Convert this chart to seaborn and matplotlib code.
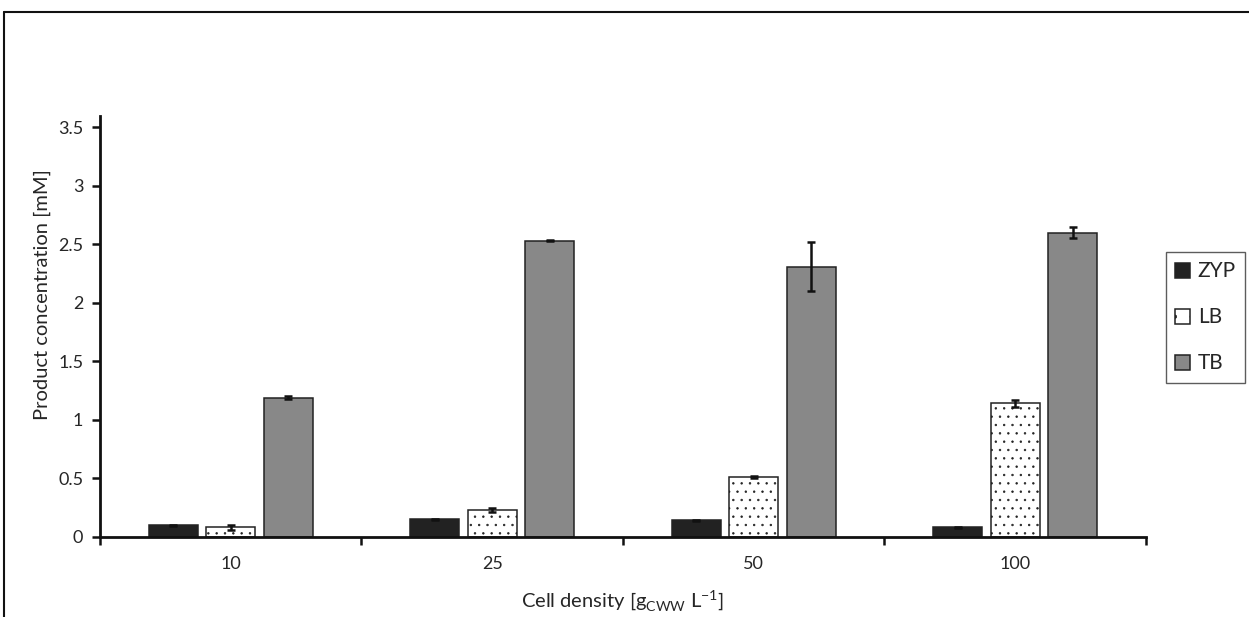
import matplotlib
matplotlib.use("Agg")
import matplotlib.pyplot as plt
from matplotlib.patches import Patch
from matplotlib.lines import Line2D
import numpy as np
import pandas as pd
import seaborn as sns

# Product concentration per medium at each cell density
densities = ["10", "25", "50", "100"]
media = ["ZYP", "LB", "TB"]
zyp_mean = [0.10, 0.15, 0.14, 0.08]
zyp_err = [0.005, 0.005, 0.005, 0.005]
lb_mean = [0.08, 0.23, 0.51, 1.14]
lb_err = [0.02, 0.015, 0.01, 0.03]
tb_mean = [1.19, 2.53, 2.31, 2.60]
tb_err = [0.012, 0.004, 0.21, 0.045]

means = {"ZYP": zyp_mean, "LB": lb_mean, "TB": tb_mean}
errs = {"ZYP": zyp_err, "LB": lb_err, "TB": tb_err}
fills = {"ZYP": "#222222", "LB": "#ffffff", "TB": "#888888"}
hatches = {"ZYP": "", "LB": "..", "TB": ""}

rows = []
for m in media:
    for d, v, e in zip(densities, means[m], errs[m]):
        rows.append({"density": d, "medium": m, "value": v, "err": e})
df = pd.DataFrame(rows)

sns.set_theme(style="white")
plt.rcParams["font.family"] = ["Lato", "DejaVu Sans"]
plt.rcParams["hatch.linewidth"] = 0.5
plt.rcParams["hatch.color"] = "#222222"

fig = plt.figure(figsize=(12.49, 6.17), dpi=100)
ax = fig.add_axes([0.080, 0.130, 0.8375, 0.6825])

sns.barplot(data=df, x="density", y="value", hue="medium", order=densities,
            hue_order=media, palette=fills, errorbar=None, width=0.66, gap=0.15,
            edgecolor="#222222", linewidth=1.1, legend=False, ax=ax)

# style bars and attach error bars by hue level
for container, m in zip(ax.containers, media):
    xs, ys = [], []
    for patch in container:
        patch.set_hatch(hatches[m])
        xs.append(patch.get_x() + patch.get_width() / 2)
        ys.append(patch.get_height())
    ax.errorbar(xs, ys, yerr=errs[m], fmt="none", ecolor="#111111",
                elinewidth=1.8, capsize=2.8, capthick=1.8, zorder=5)

ax.set_xlim(-0.5, 3.5)
ax.set_ylim(0, 3.6)
ax.set_yticks([0, 0.5, 1, 1.5, 2, 2.5, 3, 3.5])
ax.set_yticklabels(["0", "0.5", "1", "1.5", "2", "2.5", "3", "3.5"])
ax.set_xticks(range(len(densities)))
ax.set_xticklabels(densities)
ax.set_xticks([-0.5, 0.5, 1.5, 2.5, 3.5], minor=True)
ax.tick_params(axis="x", which="major", length=0, pad=14, labelsize=13)
ax.tick_params(axis="x", which="minor", length=6, width=1.8, color="#111111",
               direction="out", bottom=True)
ax.tick_params(axis="y", length=6, width=1.8, color="#111111", direction="out",
               left=True, labelsize=13, pad=6)

for s in ["top", "right"]:
    ax.spines[s].set_visible(False)
for s in ["left", "bottom"]:
    ax.spines[s].set_linewidth(2)
    ax.spines[s].set_color("#111111")

ax.set_xlabel("Cell density [g$_{\\mathregular{CWW}}$ L$^{\\mathregular{-1}}$]",
              fontsize=14.5)
ax.set_ylabel("Product concentration [mM]", fontsize=14.5)
ax.xaxis.set_label_coords(0.5, -0.151)
ax.yaxis.set_label_coords(-0.0555, 0.575)
ax.yaxis.label.set_va("center")
ax.xaxis.label.set_va("center")

handles = [Patch(facecolor=fills[m], edgecolor="#222222", hatch=hatches[m] and ".",
                 linewidth=1.1, label=m) for m in media]
fig.legend(handles=handles, loc="upper left", bbox_to_anchor=(1166 / 1249, 1 - 252 / 617),
           frameon=True, fancybox=False, edgecolor="#333333", fontsize=15,
           handlelength=0.72, handleheight=0.72, handletextpad=0.35,
           labelspacing=1.25, borderpad=0.45, borderaxespad=0)

# frame lines around the figure
fig.add_artist(Line2D([0.003, 1.0], [0.980, 0.980], transform=fig.transFigure,
                      color="#111111", linewidth=1.5))
fig.add_artist(Line2D([0.003, 0.003], [0.0, 0.980], transform=fig.transFigure,
                      color="#111111", linewidth=1.5))

fig.savefig("out.png", dpi=100, facecolor="white")
